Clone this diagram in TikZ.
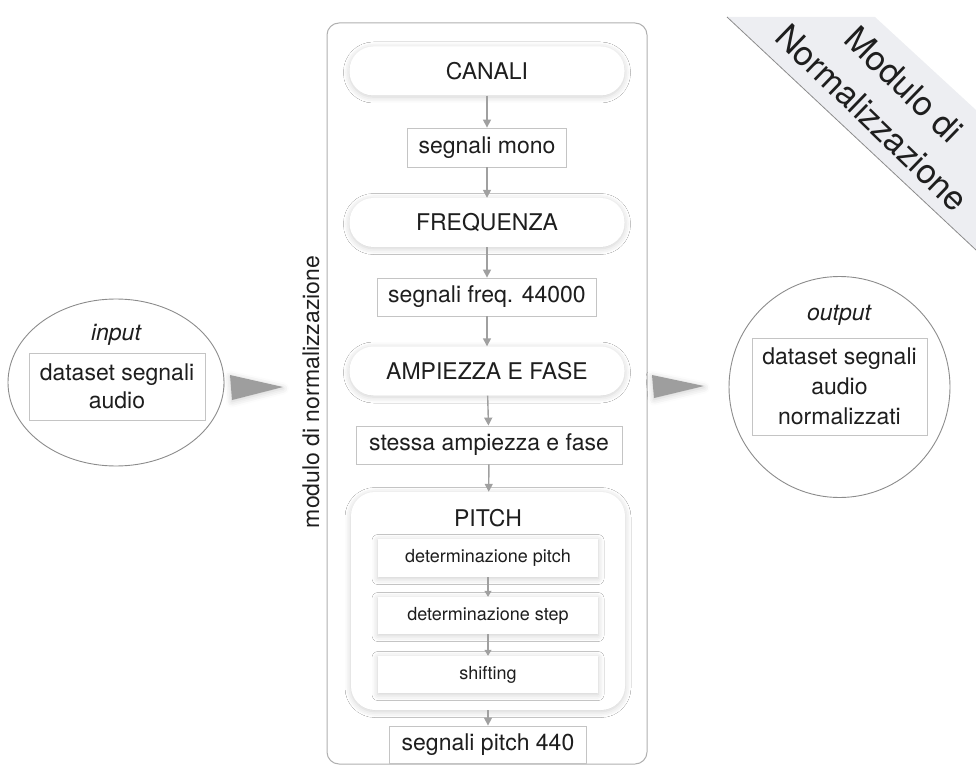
\documentclass[tikz,border=0pt]{standalone}
\usepackage{fontspec}
\setmainfont{TeX Gyre Heros}
\usetikzlibrary{arrows.meta,shapes.geometric,shadows.blur}
\definecolor{arrgray}{HTML}{A0A0A0}
\definecolor{boxline}{HTML}{C4C4C4}
\definecolor{frameline}{HTML}{B0B0B0}
\definecolor{ringline}{HTML}{8C8C8C}
\definecolor{bandfill}{HTML}{EDEEF2}
\definecolor{wedge}{HTML}{9E9E9E}
\definecolor{txt}{HTML}{1E1E1E}
\begin{document}
\begin{tikzpicture}[x=1pt,y=-1pt,
  every node/.style={inner sep=0pt, text=txt, font=\fontsize{23}{28}\selectfont},
  halo/.style={blur shadow={shadow xshift=0pt, shadow yshift=-1.5pt, shadow blur radius=6pt, shadow opacity=20}},
  pill/.style={fill=white, rounded corners=24pt, minimum width=275pt, minimum height=49pt, halo},
  resbox/.style={draw=boxline, line width=0.8pt, fill=white},
  subbox/.style={fill=white, minimum width=220pt, halo, font=\fontsize{18}{22}\selectfont},
  flow/.style={draw=arrgray, line width=1.4pt, -{Triangle[width=8pt,length=8pt]}},
  smallflow/.style={draw=arrgray, line width=1.2pt, -{Triangle[width=7pt,length=6pt]}},
  ring/.style={draw=ringline, line width=0.9pt, fill=white}
]
\useasboundingbox (0,0) rectangle (976,767);

% corner banner
\fill[bandfill] (727,17) -- (875,17) -- (976,110) -- (976,250) -- cycle;
\draw[ringline, line width=0.8pt] (727,17) -- (976,250);
\node[rotate=-44, align=center, font=\fontsize{34}{46}\selectfont] (title) at (888,101) {Modulo di\\Normalizzazione};

% module frame
\node[draw=frameline, line width=1pt, rounded corners=12pt, fill=white, minimum width=320pt, minimum height=741pt] (frame) at (487,393.5) {};
\node[rotate=90] (lbl) at (311,392) {modulo di normalizzazione};

% flow
\node[pill] (canali) at (487,71) {CANALI};
\node[resbox, minimum width=159pt, minimum height=39pt] (mono) at (487,147.5) {segnali mono};
\node[pill] (freq) at (487,222.5) {FREQUENZA};
\node[resbox, minimum width=219pt, minimum height=38pt] (f44) at (487,297) {segnali freq. 44000};
\node[pill] (amp) at (487,371) {AMPIEZZA E FASE};
\node[resbox, minimum width=266pt, minimum height=38pt] (same) at (489,445) {stessa ampiezza e fase};

\node[fill=white, rounded corners=24pt, minimum width=274pt, minimum height=218pt, halo] (pitch) at (488,601) {};
\node (pitchlbl) at (488,518) {PITCH};
\node[subbox, minimum height=38pt] (dp) at (488,558) {determinazione pitch};
\node[subbox, minimum height=37pt] (ds) at (488,615.5) {determinazione step};
\node[subbox, minimum height=37pt] (sh) at (488,674.5) {shifting};

\node[resbox, minimum width=197pt, minimum height=37pt] (p440) at (488,744.5) {segnali pitch 440};

\draw[flow] (canali) -- (mono);
\draw[flow] (mono) -- (freq);
\draw[flow] (freq) -- (f44);
\draw[flow] (f44) -- (amp);
\draw[flow] (amp) -- (same);
\draw[flow] (same) -- (pitch);
\draw[smallflow] (dp) -- (ds);
\draw[smallflow] (ds) -- (sh);
\draw[flow] (pitch) -- (p440);

% input
\node[ring, ellipse, minimum width=216pt, minimum height=167pt] (in) at (116,382.5) {};
\node[anchor=base, font=\fontsize{23}{28}\selectfont\itshape] (inlbl) at (116,340) {input};
\node[resbox, align=center, minimum width=176pt, minimum height=67pt] (inbox) at (117,386.5) {dataset segnali\\audio};

% output
\node[ring, circle, minimum size=221pt] (out) at (839.5,387) {};
\node[anchor=base, font=\fontsize{23}{28}\selectfont\itshape] (outlbl) at (839,320) {output};
\node[resbox, align=center, minimum width=175pt, minimum height=97pt, font=\fontsize{23}{30}\selectfont] (outbox) at (839.5,386.5) {dataset segnali\\audio\\normalizzati};

% wedges
\coordinate (w1a) at (230,375); \coordinate (w1t) at (283,387); \coordinate (w1b) at (232,400);
\fill[wedge, halo] (w1a) -- (w1t) -- (w1b) -- cycle;
\coordinate (w2a) at (652,375); \coordinate (w2t) at (704,386); \coordinate (w2b) at (654,398);
\fill[wedge, halo] (w2a) -- (w2t) -- (w2b) -- cycle;
\end{tikzpicture}
\end{document}
